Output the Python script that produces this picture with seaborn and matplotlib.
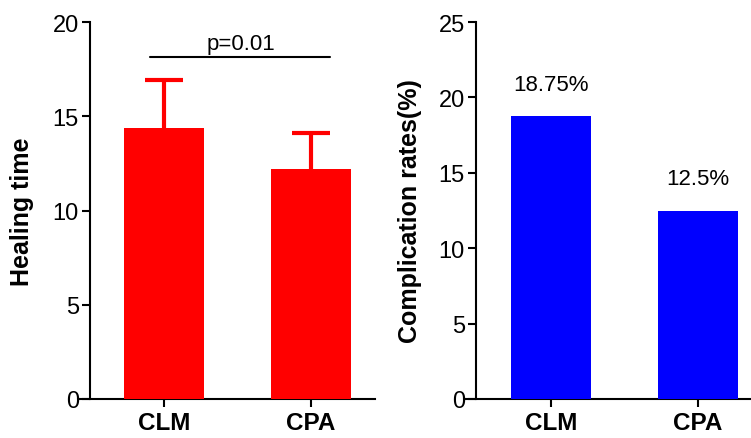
import matplotlib
matplotlib.use("Agg")
import matplotlib.pyplot as plt
import seaborn as sns
import pandas as pd

groups = ["CLM", "CPA"]
healing_mean = [14.4, 12.2]
healing_sd = [2.5, 1.9]
complication_rate = [18.75, 12.5]
rate_labels = ["18.75%", "12.5%"]
p_text = "p=0.01"

sns.set_theme(style="ticks")
plt.rcParams["font.family"] = ["Liberation Sans", "DejaVu Sans"]
plt.rcParams["text.color"] = "black"
plt.rcParams["axes.labelcolor"] = "black"
plt.rcParams["xtick.color"] = "black"
plt.rcParams["ytick.color"] = "black"

fig = plt.figure(figsize=(7.51, 4.39), dpi=100)
W, H = 751, 439

def make_ax(x0, x1, y0, y1):
    return fig.add_axes([x0 / W, 1 - y1 / H, (x1 - x0) / W, (y1 - y0) / H])

ax1 = make_ax(78, 375, 23, 400)
ax2 = make_ax(464, 751, 23, 400)

df1 = pd.DataFrame({"group": groups, "value": healing_mean})
df2 = pd.DataFrame({"group": groups, "value": complication_rate})

sns.barplot(data=df1, x="group", y="value", color="#ff0000", saturation=1,
            width=0.54, ax=ax1, zorder=3, linewidth=0)
eb = ax1.errorbar([0, 1], healing_mean, yerr=[[0, 0], healing_sd], fmt="none",
                  ecolor="#ff0000", elinewidth=3, capsize=14, capthick=3, zorder=2)
# hide the lower caps (only upward error bars)
eb[1][0].set_visible(False)

sns.barplot(data=df2, x="group", y="value", color="#0000ff", saturation=1,
            width=0.54, ax=ax2, zorder=3, linewidth=0)

def style(ax, xl, yaxis_x, ymax, ystep, ylabel):
    ax.set_xlim(*xl)
    ax.set_ylim(0, ymax)
    ax.set_yticks(range(0, ymax + 1, ystep))
    ax.spines["left"].set_position(("data", yaxis_x))
    ax.spines["right"].set_visible(False)
    ax.spines["top"].set_visible(False)
    for s in ("left", "bottom"):
        ax.spines[s].set_linewidth(1.5)
        ax.spines[s].set_color("black")
    ax.tick_params(axis="both", width=1.5, length=6, color="black",
                   labelcolor="black")
    ax.tick_params(axis="y", labelsize=17, pad=2)
    ax.tick_params(axis="x", labelsize=17.5, pad=3)
    for lab in ax.get_xticklabels():
        lab.set_fontweight("bold")
    ax.set_xlabel("")
    ax.set_ylabel(ylabel, fontsize=18, fontweight="bold", color="black")
    ax.patch.set_alpha(0)

style(ax1, (-0.585, 1.435), -0.503, 20, 5, "Healing time")
style(ax2, (-0.592, 1.36), -0.51, 25, 5, "Complication rates(%)")
ax1.yaxis.set_label_coords((22 - 78) / 297, 0.5)
ax2.yaxis.set_label_coords((410 - 464) / 287, 0.5)
ax1.yaxis.label.set_va("center")
ax2.yaxis.label.set_va("center")

ax1.plot([-0.095, 1.13], [18.14, 18.14], color="black", lw=1.5, clip_on=False)
ax1.text(0.52, 18.3, p_text, ha="center", va="bottom", fontsize=16, color="black")

for i, (v, lab) in enumerate(zip(complication_rate, rate_labels)):
    ax2.text(i, v + 1.4, lab, ha="center", va="bottom", fontsize=16, color="black")

fig.savefig("out.png", dpi=100)
